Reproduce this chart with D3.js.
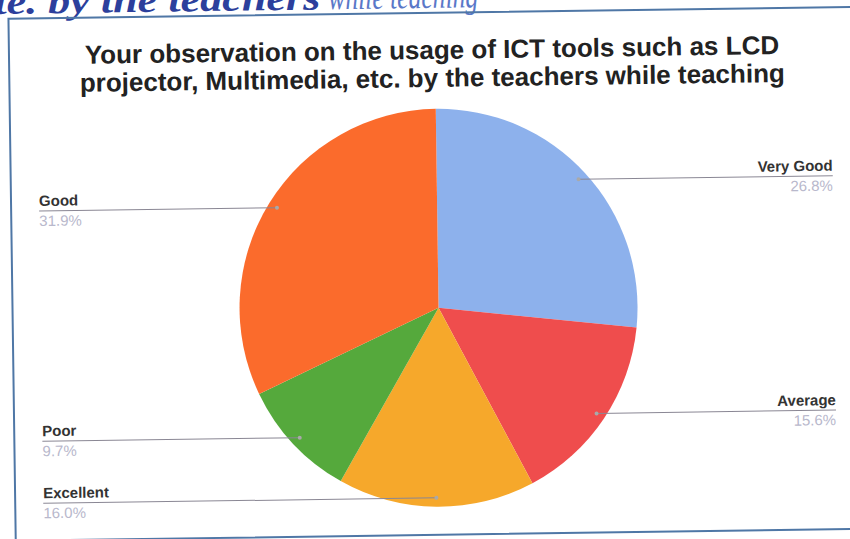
<!DOCTYPE html>
<html>
<head>
<meta charset="utf-8">
<script src="https://cdn.jsdelivr.net/npm/d3@7"></script>
<style>
  html, body { margin: 0; padding: 0; background: #fff; }
  svg { display: block; }
</style>
</head>
<body>
<svg id="container" width="850" height="539"></svg>
<script>
const categories = ["Very Good", "Average", "Excellent", "Poor", "Good"];
const percents = [26.8, 15.6, 16.0, 9.7, 31.9];
const sliceColors = ["#8db1ec", "#ef4d4d", "#f6a82b", "#55a93c", "#fb6b2c"];
const titleLines = [
  "Your observation on the usage of ICT tools such as LCD",
  "projector, Multimedia, etc. by the teachers while teaching"
];
const headingParts = ["te. by the teachers", "while teaching"];

const W = 850, H = 539;
const FONT = "'Liberation Sans', Arial, sans-serif";
const center = { x: 438, y: 308 };
const radius = 199;
const labelLeft = 40, labelRight = 834;

const data = categories.map((c, i) => ({ name: c, value: percents[i], color: sliceColors[i] }));

const svg = d3.select("#container");
// the scan is slightly tilted
const g = svg.append("g").attr("transform", `rotate(-0.8, ${W / 2}, ${H / 2})`);

// cut-off heading of the page above the chart (only its lower part shows)
const headX = [-2, 332], headLen = [326, 150];
g.append("g")
  .attr("class", "heading")
  .selectAll("text")
  .data(headingParts)
  .enter()
  .append("text")
  .attr("x", (d, i) => headX[i])
  .attr("y", 8)
  .attr("textLength", (d, i) => headLen[i])
  .attr("lengthAdjust", "spacingAndGlyphs")
  .attr("font-family", "'Liberation Serif', 'Times New Roman', serif")
  .attr("font-size", 36)
  .attr("font-style", "italic")
  .attr("font-weight", (d, i) => i == 0 ? "bold" : "normal")
  .attr("fill", (d, i) => i == 0 ? "#2c3f9c" : "#5a78c8")
  .text(d => d);

// frame
g.append("rect")
  .attr("x", 12)
  .attr("y", 13)
  .attr("width", 870)
  .attr("height", 522)
  .attr("fill", "none")
  .attr("stroke", "#4f77a6")
  .attr("stroke-width", 2);

// title
g.append("g")
  .attr("class", "title")
  .selectAll("text")
  .data(titleLines)
  .enter()
  .append("text")
  .attr("x", 435)
  .attr("y", (d, i) => 59 + i * 28)
  .attr("text-anchor", "middle")
  .attr("font-family", FONT)
  .attr("font-weight", "bold")
  .attr("font-size", 26)
  .attr("fill", "#222")
  .text(d => d);

const pie = d3.pie().sort(null).value(d => d.value);
const arcs = pie(data);
const arc = d3.arc().innerRadius(0).outerRadius(radius);

const pieG = g.append("g")
  .attr("transform", `translate(${center.x},${center.y})`);

pieG.selectAll("path")
  .data(arcs)
  .enter()
  .append("path")
  .attr("d", arc)
  .attr("fill", d => d.data.color);

// leader lines + labels
const dotR = radius * 0.955;
const mid = d => (d.startAngle + d.endAngle) / 2;
const dotPos = d => [center.x + dotR * Math.sin(mid(d)), center.y - dotR * Math.cos(mid(d))];
const onLeft = d => mid(d) > Math.PI;

const labelsG = g.append("g")
  .attr("class", "labels")
  .selectAll("g")
  .data(arcs)
  .enter()
  .append("g");

labelsG.append("line")
  .attr("x1", d => dotPos(d)[0])
  .attr("y1", d => dotPos(d)[1])
  .attr("x2", d => onLeft(d) ? labelLeft : labelRight)
  .attr("y2", d => dotPos(d)[1])
  .attr("stroke", "#8a8794")
  .attr("stroke-width", 1);

labelsG.append("circle")
  .attr("cx", d => dotPos(d)[0])
  .attr("cy", d => dotPos(d)[1])
  .attr("r", 2)
  .attr("fill", "#a9a9a9");

labelsG.append("text")
  .attr("x", d => onLeft(d) ? labelLeft : labelRight)
  .attr("y", d => dotPos(d)[1] - 5)
  .attr("text-anchor", d => onLeft(d) ? "start" : "end")
  .attr("font-family", FONT)
  .attr("font-weight", "bold")
  .attr("font-size", 15)
  .attr("fill", "#333")
  .text(d => d.data.name);

labelsG.append("text")
  .attr("x", d => onLeft(d) ? labelLeft : labelRight)
  .attr("y", d => dotPos(d)[1] + 15)
  .attr("text-anchor", d => onLeft(d) ? "start" : "end")
  .attr("font-family", FONT)
  .attr("font-size", 15)
  .attr("fill", "#b8b8cc")
  .text(d => d.data.value.toFixed(1) + "%");
</script>
</body>
</html>
